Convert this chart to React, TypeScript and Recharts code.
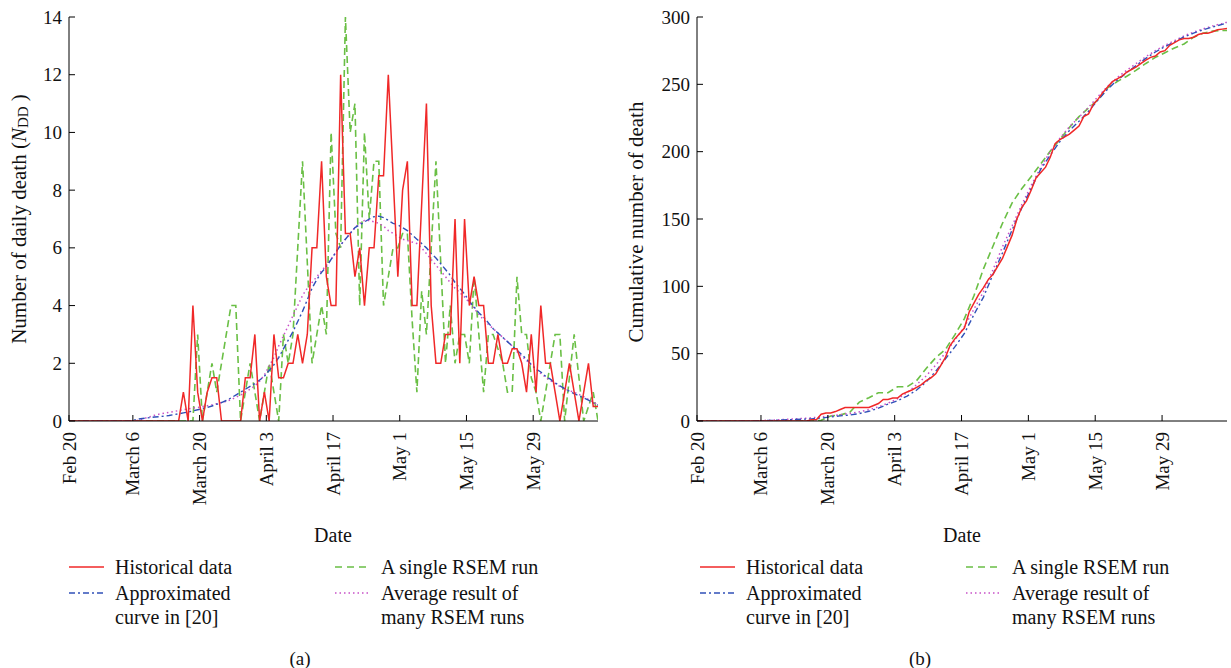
import React from 'react';
import { LineChart, Line, XAxis, YAxis } from 'recharts';

const FONT = '"Liberation Serif", "DejaVu Serif", "Times New Roman", serif';
const RED = '#f02828';
const GREEN = '#6abf45';
const BLUE = '#3050b8';
const MAGENTA = '#c850c8';

// ---------- categories / ticks ----------
const dayIndex = Array.from({ length: 112 }, (_, i) => i); // day 0 = Feb 20
const dateTicks = [0, 13.4, 27.4, 41.4, 55.4, 69.4, 83.4, 97.4];
const dateLabels = ['Feb 20', 'March 6', 'March 20', 'April 3', 'April 17', 'May 1', 'May 15', 'May 29'];
const minorTicks = [9, 19, 29, 39, 49, 59, 69, 79, 89, 99, 109];
const dailyTicks = [0, 2, 4, 6, 8, 10, 12, 14];
const cumTicks = [0, 50, 100, 150, 200, 250, 300];

// ---------- panel (a): daily deaths ----------
const historicalDaily = [
  0, 0, 0, 0, 0, 0, 0, 0, 0, 0, 0, 0, 0, 0, 0, 0, 0, 0, 0, 0, 0, 0, 0, 0,
  1, 0, 4, 1, 0, 1, 1.5, 1.5, 0, 0,
  0, 0, 0, 1.5, 1.5, 3, 0, 1, 0, 3,
  1.5, 1.5, 2, 2, 3, 2, 3, 6, 6, 9,
  5, 4, 4, 12, 6.5, 6.5, 5, 6, 4, 6,
  6, 8.5, 8.5, 12, 8.5, 5, 8, 9, 4, 4,
  7.5, 11, 4, 2, 2, 3, 3, 7, 2, 7,
  4, 5, 4, 4, 2, 2, 3, 2, 2, 2.5,
  2.5, 2, 1, 3, 1, 4, 2, 2, 1, 0,
  1, 2, 1, 0, 1, 2, 0.5, 0.5,
];

const singleRunDaily = [
  0, 0, 0, 0, 0, 0, 0, 0, 0, 0, 0, 0, 0, 0, 0, 0, 0, 0, 0, 0, 0, 0, 0, 0, 0, 0, 0,
  3, 0, 1, 2, 1, 2, 3, 4, 4, 0,
  1, 2, 1, 0, 1, 2, 1, 0, 3, 2,
  3, 6, 9, 5.5, 2, 3, 4, 3, 10, 6.5,
  6, 14, 10, 11, 4, 10, 7, 9, 9, 4,
  5, 6, 6, 6.5, 6.5, 3.5, 1, 4.5, 3, 6,
  9, 5.5, 2, 4, 2, 3, 3, 2, 5, 3,
  1, 3, 3, 2.5, 2, 1, 1, 5, 3, 3,
  1.5, 1, 0, 1, 2, 3, 3, 0, 1.5, 3,
  1.5, 0, 0.5, 1, 0,
];

const approxDaily = [
  0, 0, 0, 0, 0, 0, 0, 0, 0, 0, 0, 0, 0, 0,
  0.05, 0.08, 0.1, 0.12, 0.14, 0.15, 0.17, 0.19, 0.22, 0.25,
  0.28, 0.31, 0.35, 0.39, 0.43, 0.47, 0.52, 0.58, 0.64, 0.71,
  0.8, 0.9, 1.0, 1.1, 1.2, 1.3, 1.42, 1.55, 1.75, 1.95,
  2.2, 2.5, 2.8, 3.1, 3.45, 3.8, 4.2, 4.6, 4.9, 5.15,
  5.35, 5.6, 5.85, 6.1, 6.3, 6.5, 6.7, 6.8, 6.9, 7.0,
  7.08, 7.1, 7.05, 6.95, 6.85, 6.8, 6.7, 6.6, 6.45, 6.3,
  6.15, 6.0, 5.8, 5.65, 5.45, 5.25, 5.05, 4.8, 4.6, 4.4,
  4.15, 3.95, 3.75, 3.6, 3.4, 3.2, 3.05, 2.9, 2.75, 2.6,
  2.45, 2.3, 2.15, 1.95, 1.8, 1.7, 1.55, 1.45, 1.32, 1.22,
  1.12, 1.03, 0.95, 0.87, 0.8, 0.72, 0.63, 0.55,
];

const averageDaily = [
  0, 0, 0, 0, 0, 0, 0, 0, 0, 0, 0, 0, 0, 0, 0,
  0.05, 0.1, 0.15, 0.2, 0.24, 0.27, 0.3, 0.33, 0.36,
  0.39, 0.42, 0.45, 0.47, 0.5, 0.53, 0.56, 0.6, 0.64, 0.68,
  0.74, 0.82, 0.9, 1.0, 1.1, 1.22, 1.38, 1.6, 1.9, 2.2,
  2.6, 2.95, 3.3, 3.65, 4.0, 4.35, 4.6, 4.8, 5.0, 5.2,
  5.4, 5.6, 5.85, 6.1, 6.3, 6.5, 6.7, 6.85, 6.95, 6.95,
  6.9, 6.85, 6.75, 6.6, 6.5, 6.4, 6.3, 6.25, 6.2, 6.15,
  6.0, 5.8, 5.6, 5.4, 5.2, 5.0, 4.8, 4.6, 4.45, 4.3,
  4.1, 3.9, 3.7, 3.5, 3.35, 3.2, 3.05, 2.9, 2.75, 2.6,
  2.4, 2.25, 2.1, 1.95, 1.8, 1.65, 1.52, 1.4, 1.3, 1.2,
  1.12, 1.05, 1.0, 0.92, 0.84, 0.75, 0.65, 0.55,
];

// ---------- panel (b): cumulative deaths ----------
const historicalCum = [
  0, 0, 0, 0, 0, 0, 0, 0, 0, 0, 0, 0, 0, 0, 0, 0, 0, 0, 0, 0, 0, 0, 0, 0,
  1, 1, 5, 6, 6, 7, 8.5, 10, 10, 10,
  10, 10, 10, 11.5, 13, 16, 16, 17, 17, 20,
  21.5, 23, 25, 27, 30, 32, 35, 41, 47, 56,
  61, 65, 69, 81, 87.5, 94, 99, 105, 109, 115,
  121, 129.5, 138, 150, 158.5, 163.5, 171.5, 180.5, 184.5, 188.5,
  196, 206, 209, 211, 213, 216, 219, 226, 228, 235,
  239, 244, 248, 252, 254, 256, 259, 261, 263, 265.5,
  268, 270, 271, 274, 275, 279, 281, 283, 284, 284,
  285, 287, 288, 288, 289, 290.5, 291, 291.5,
];

const sampleDays = [
  0, 12, 14, 16, 18, 20, 22, 24, 26, 28, 30, 32, 34, 36, 38, 40, 42, 44, 46, 48,
  50, 52, 54, 56, 58, 60, 62, 64, 66, 68, 70, 72, 74, 76, 78, 80, 82, 84, 86, 88,
  90, 92, 94, 96, 98, 100, 102, 104, 106, 108, 110, 111,
];
const singleRunCum = [
  0, 0, 0, 0, 0, 0, 0, 0, 0.5, 3.7, 4.5, 6.5, 14, 17.3, 21, 21, 25.4, 25.4, 30, 39,
  47, 53, 64, 76, 93, 113, 130, 147, 162, 172.5, 181.5, 191, 200.5, 209, 218, 226, 232.5, 238.5, 247.4, 252,
  256, 260.5, 265.5, 270, 273.5, 277, 280, 285, 288, 289.5, 290, 290,
];
const approxCum = [
  0, 0, 0.3, 0.5, 0.8, 1.0, 1.3, 1.6, 2.2, 3.0, 3.8, 4.4, 5.5, 7.2, 9.5, 12.5, 15, 18.5, 23, 29,
  37, 46, 55, 65, 79, 92, 109, 125, 142, 158, 173, 187, 197.5, 207.5, 215.7, 222.5, 230, 238.5, 246.5, 253,
  258.7, 264, 269.3, 274, 278, 281.5, 285.2, 288, 290.5, 292.6, 294.5, 295.5,
];
const averageCum = [
  0, 0, 0.4, 0.7, 1.1, 1.5, 1.9, 2.4, 3.0, 3.8, 4.7, 5.6, 6.8, 8.4, 10.5, 13.2, 16.5, 21, 27, 33.5,
  41.5, 50.5, 60, 70, 83, 96, 112.5, 129.5, 145, 160.5, 175, 188.5, 200, 210, 218.5, 225.5, 233, 241, 248.5, 255,
  260.5, 265.5, 270.5, 275, 279, 282.5, 286, 288.8, 291.2, 293.4, 295.2, 296.2,
];

// ---------- legend ----------
const legendEntries = [
  { lines: ['Historical data'], color: RED, dash: undefined as string | undefined, width: 1.6, col: 0, row: 0 },
  { lines: ['Approximated', 'curve in [20]'], color: BLUE, dash: '6 3 2 3', width: 1.4, col: 0, row: 1 },
  { lines: ['A single RSEM run'], color: GREEN, dash: '7 5', width: 1.6, col: 1, row: 0 },
  { lines: ['Average result of', 'many RSEM runs'], color: MAGENTA, dash: '1.5 3', width: 1.5, col: 1, row: 1 },
];

// ---------- build rows ----------
const dailyRows = dayIndex.map((d, i) => ({
  d,
  hist: historicalDaily[i],
  run: singleRunDaily[i],
  approx: approxDaily[i],
  avg: averageDaily[i],
}));
const histCumRows = dayIndex.map((d, i) => ({ d, v: historicalCum[i] }));
const runCumRows = sampleDays.map((d, i) => ({ d, v: singleRunCum[i] }));
const approxCumRows = sampleDays.map((d, i) => ({ d, v: approxCum[i] }));
const avgCumRows = sampleDays.map((d, i) => ({ d, v: averageCum[i] }));

const TL = 6; // inward tick length
const Y_MARGIN = 7;
const X_MARGIN = 11;

const LeftYTick = (p: any) => (
  <g>
    <line x1={p.x + Y_MARGIN} x2={p.x + Y_MARGIN + TL} y1={p.y} y2={p.y} stroke="#000" strokeWidth={1} />
    <text x={p.x} y={p.y} textAnchor="end" dominantBaseline="central" fontFamily={FONT} fontSize={19} fill="#111">
      {p.payload.value}
    </text>
  </g>
);
const RightYTick = (p: any) => (
  <line x1={p.x} x2={p.x - TL} y1={p.y} y2={p.y} stroke="#000" strokeWidth={1} />
);
const TopTick = (p: any) => (
  <line x1={p.x} x2={p.x} y1={p.y} y2={p.y + TL} stroke="#000" strokeWidth={1} />
);
const BottomTick = (p: any) => {
  const axisY = p.y - X_MARGIN;
  return (
    <g>
      <line x1={p.x} x2={p.x} y1={axisY} y2={axisY - TL} stroke="#000" strokeWidth={1} />
      <text
        x={p.x}
        y={p.y}
        transform={`rotate(-90 ${p.x} ${p.y})`}
        textAnchor="end"
        dominantBaseline="central"
        fontFamily={FONT}
        fontSize={19}
        fill="#111"
      >
        {dateLabels[p.index]}
      </text>
    </g>
  );
};

const axisCommon = { stroke: '#000', strokeWidth: 1 };

const PanelAxes = (yTicks: number[], yMax: number, yWidth: number) => [
  <XAxis
    key="xb"
    xAxisId="b"
    dataKey="d"
    type="number"
    domain={[0, 111]}
    ticks={dateTicks}
    interval={0}
    height={40}
    tickSize={0}
    tickMargin={X_MARGIN}
    tickLine={false}
    axisLine={axisCommon}
    tick={<BottomTick />}
    allowDataOverflow
  />,
  <XAxis
    key="xt"
    xAxisId="t"
    dataKey="d"
    type="number"
    orientation="top"
    domain={[0, 111]}
    ticks={minorTicks}
    interval={0}
    height={0}
    tickSize={0}
    tickMargin={0}
    tickLine={false}
    axisLine={axisCommon}
    tick={<TopTick />}
    allowDataOverflow
  />,
  <YAxis
    key="yl"
    yAxisId="l"
    type="number"
    domain={[0, yMax]}
    ticks={yTicks}
    interval={0}
    width={yWidth}
    tickSize={0}
    tickMargin={Y_MARGIN}
    tickLine={false}
    axisLine={axisCommon}
    tick={<LeftYTick />}
    allowDataOverflow
  />,
  <YAxis
    key="yr"
    yAxisId="r"
    orientation="right"
    type="number"
    domain={[0, yMax]}
    ticks={yTicks}
    interval={0}
    width={0}
    tickSize={0}
    tickMargin={0}
    tickLine={false}
    axisLine={axisCommon}
    tick={<RightYTick />}
    allowDataOverflow
  />,
];

const lineCommon = {
  xAxisId: 'b',
  yAxisId: 'l',
  type: 'linear' as const,
  dot: false,
  activeDot: false,
  isAnimationActive: false,
};

function Legend({ left }: { left: number }) {
  const colX = [0, 266];
  const rowY = [567, 593];
  return (
    <g>
      {legendEntries.map((e, i) => {
        const x0 = left + colX[e.col];
        const y0 = rowY[e.row];
        return (
          <g key={i}>
            <line x1={x0} x2={x0 + 35} y1={y0} y2={y0} stroke={e.color} strokeWidth={e.width} strokeDasharray={e.dash} />
            {e.lines.map((t, j) => (
              <text key={j} x={x0 + 46} y={y0 + j * 24} dominantBaseline="central" fontSize={20} fill="#111">
                {t}
              </text>
            ))}
          </g>
        );
      })}
    </g>
  );
}

export default function App() {
  return (
    <div style={{ position: 'absolute', left: 0, top: 0, width: 1231, height: 668, background: '#fff', overflow: 'hidden' }}>
      <div style={{ position: 'absolute', left: 0, top: 0 }}>
        <LineChart width={620} height={668} data={dailyRows} margin={{ top: 17, left: 39, right: 22, bottom: 207 }}>
          {PanelAxes(dailyTicks, 14, 30)}
          <Line {...lineCommon} dataKey="run" stroke={GREEN} strokeWidth={1.6} strokeDasharray="7 4" />
          <Line {...lineCommon} dataKey="avg" stroke={MAGENTA} strokeWidth={1.5} strokeDasharray="1.5 3" />
          <Line {...lineCommon} dataKey="approx" stroke={BLUE} strokeWidth={1.4} strokeDasharray="6 3 2 3" />
          <Line {...lineCommon} dataKey="hist" stroke={RED} strokeWidth={1.5} />
        </LineChart>
      </div>
      <div style={{ position: 'absolute', left: 620, top: 0 }}>
        <LineChart width={611} height={668} margin={{ top: 17, left: 37, right: 4, bottom: 207 }}>
          {PanelAxes(cumTicks, 300, 40)}
          <Line {...lineCommon} data={runCumRows} dataKey="v" name="run" stroke={GREEN} strokeWidth={1.6} strokeDasharray="7 4" />
          <Line {...lineCommon} data={avgCumRows} dataKey="v" name="avg" stroke={MAGENTA} strokeWidth={1.5} strokeDasharray="1.5 3" />
          <Line {...lineCommon} data={approxCumRows} dataKey="v" name="approx" stroke={BLUE} strokeWidth={1.4} strokeDasharray="6 3 2 3" />
          <Line {...lineCommon} data={histCumRows} dataKey="v" name="hist" stroke={RED} strokeWidth={1.5} />
        </LineChart>
      </div>
      <svg
        width={1231}
        height={668}
        style={{ position: 'absolute', left: 0, top: 0, pointerEvents: 'none' }}
        fontFamily={FONT}
      >
        <text transform="translate(19,219) rotate(-90)" textAnchor="middle" dominantBaseline="central" fontSize={21} fill="#111">
          Number of daily death (<tspan fontStyle="italic">N</tspan>
          <tspan fontSize={15} dy={4}>DD</tspan>
          <tspan dy={-4}> )</tspan>
        </text>
        <text transform="translate(636,222) rotate(-90)" textAnchor="middle" dominantBaseline="central" fontSize={21} fill="#111">
          Cumulative number of death
        </text>
        <text x={333} y={535} textAnchor="middle" dominantBaseline="central" fontSize={20} fill="#111">Date</text>
        <text x={962} y={535} textAnchor="middle" dominantBaseline="central" fontSize={20} fill="#111">Date</text>
        <Legend left={69} />
        <Legend left={700} />
        <text x={300} y={658} textAnchor="middle" dominantBaseline="central" fontSize={19} fill="#111">(a)</text>
        <text x={920} y={658} textAnchor="middle" dominantBaseline="central" fontSize={19} fill="#111">(b)</text>
      </svg>
    </div>
  );
}
